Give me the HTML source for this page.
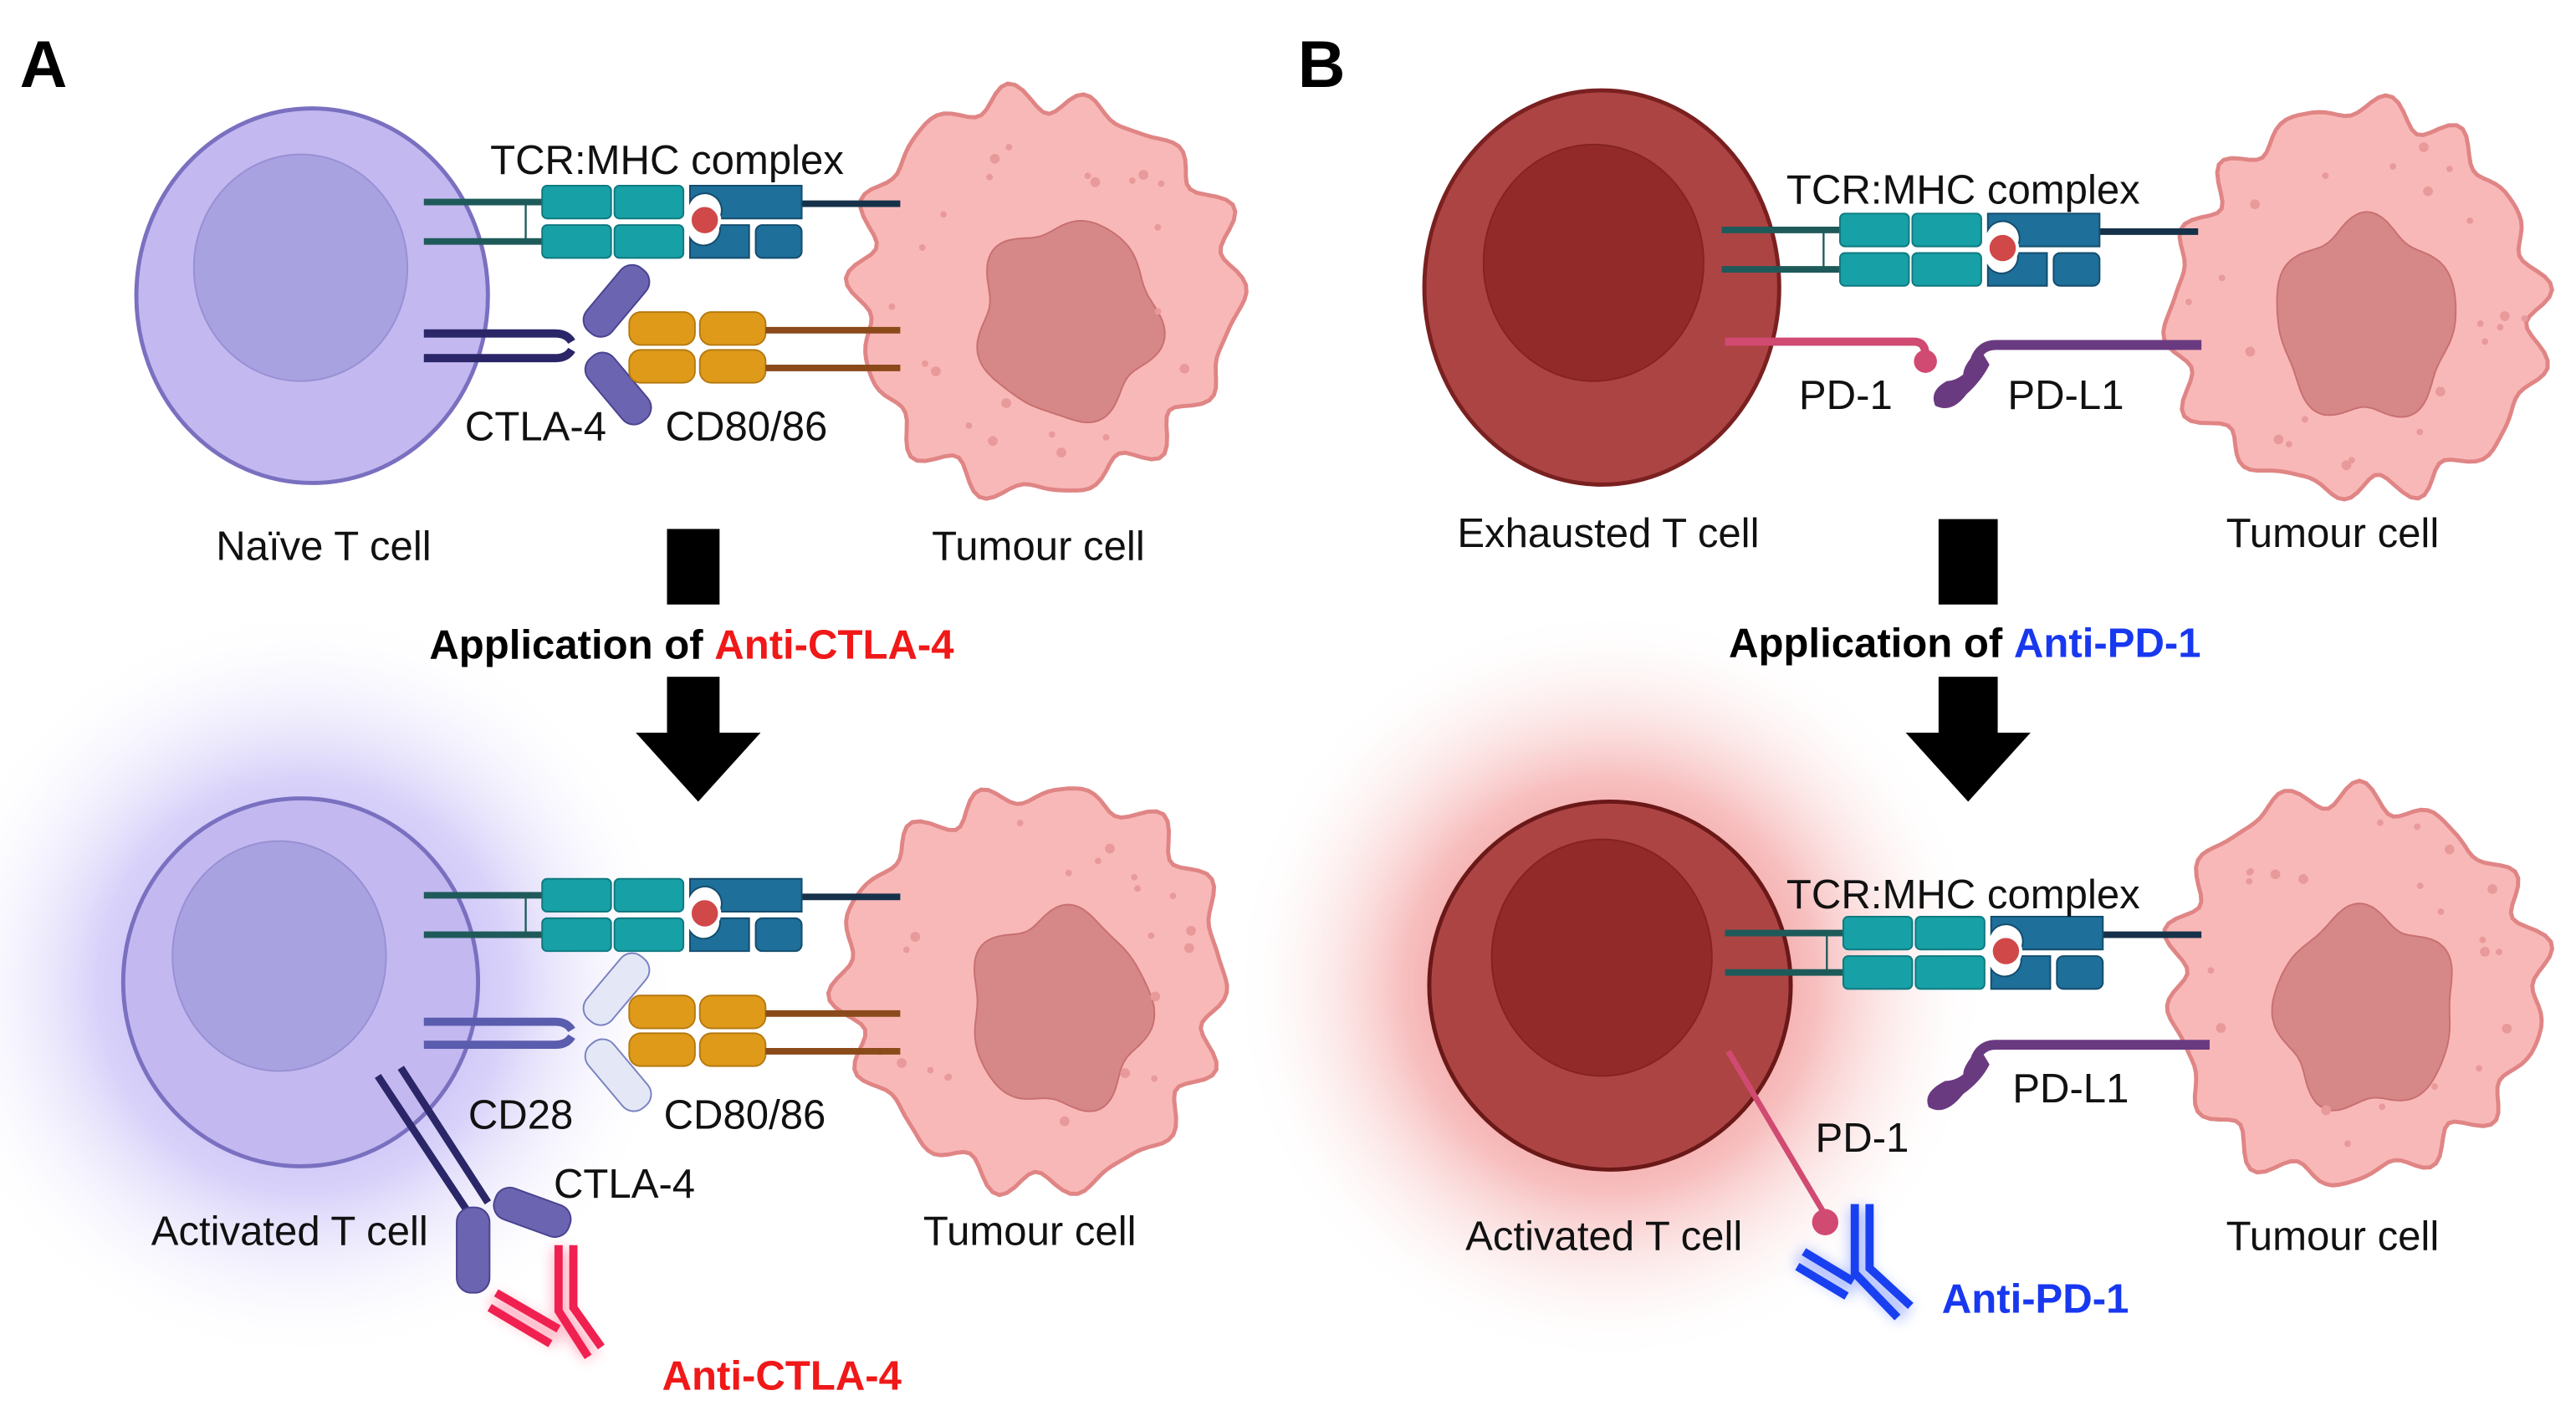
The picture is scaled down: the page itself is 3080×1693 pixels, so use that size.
<!DOCTYPE html>
<html><head><meta charset="utf-8"><style>
html,body{margin:0;padding:0;background:#fff}
svg{display:block}
text{font-family:"Liberation Sans",Arial,sans-serif;fill:#111}
</style></head><body>
<svg id="s" width="3080" height="1693" viewBox="0 0 1568 862" preserveAspectRatio="none" xmlns="http://www.w3.org/2000/svg">
<defs>
<radialGradient id="gp" cx="0.5" cy="0.5" r="0.5">
<stop offset="0" stop-color="#9a88f0" stop-opacity="0.9"/><stop offset="0.55" stop-color="#b9aef5" stop-opacity="0.55"/><stop offset="1" stop-color="#fff" stop-opacity="0"/></radialGradient>
<radialGradient id="gr" cx="0.5" cy="0.5" r="0.5">
<stop offset="0" stop-color="#e04040" stop-opacity="0.9"/><stop offset="0.55" stop-color="#f08080" stop-opacity="0.5"/><stop offset="1" stop-color="#fff" stop-opacity="0"/></radialGradient>
<filter id="glowR" x="-50%" y="-50%" width="200%" height="200%"><feGaussianBlur stdDeviation="4"/></filter>
<g id="tcr">
<line x1="0" y1="0" x2="75" y2="0" stroke="#1f5a5a" stroke-width="4"/>
<line x1="0" y1="24" x2="75" y2="24" stroke="#1f5a5a" stroke-width="4"/>
<line x1="62" y1="0" x2="62" y2="24" stroke="#1f5a5a" stroke-width="1.2"/>
<rect x="72" y="-10" width="42" height="20" rx="3" fill="#17a0a6" stroke="#0e7a80"/>
<rect x="116" y="-10" width="42" height="20" rx="3" fill="#17a0a6" stroke="#0e7a80"/>
<rect x="72" y="14" width="42" height="20" rx="3" fill="#17a0a6" stroke="#0e7a80"/>
<rect x="116" y="14" width="42" height="20" rx="3" fill="#17a0a6" stroke="#0e7a80"/>
<line x1="230" y1="1" x2="290" y2="1" stroke="#16324a" stroke-width="4"/>
<path d="M162,-10 H230 V10 H180 A10,10 0 0 0 162,0 Z" fill="#1e6f9a" stroke="#134d6e"/>
<path d="M162,34 V22 A10,10 0 0 0 180,14 H198 V34 Z" fill="#1e6f9a" stroke="#134d6e"/>
<rect x="202" y="14" width="28" height="20" rx="4" fill="#1e6f9a" stroke="#134d6e"/>
<circle cx="171" cy="11" r="9" fill="#d04848" stroke="#fff" stroke-width="2"/>
</g>
<g id="cd80">
<rect x="383" y="-11" width="40" height="20" rx="7" fill="#e09a1a" stroke="#b57a10"/>
<rect x="426" y="-11" width="40" height="20" rx="7" fill="#e09a1a" stroke="#b57a10"/>
<rect x="383" y="12" width="40" height="20" rx="7" fill="#e09a1a" stroke="#b57a10"/>
<rect x="426" y="12" width="40" height="20" rx="7" fill="#e09a1a" stroke="#b57a10"/>
<line x1="466" y1="0" x2="548" y2="0" stroke="#8a4a1a" stroke-width="4"/>
<line x1="466" y1="23" x2="548" y2="23" stroke="#8a4a1a" stroke-width="4"/>
</g>
</defs>

<ellipse cx="185" cy="600" rx="230" ry="230" fill="url(#gp)"/>
<ellipse cx="980" cy="600" rx="230" ry="230" fill="url(#gr)"/>

<g id="tumours"></g>

<!-- A top -->
<text x="12" y="53" font-size="40" font-weight="bold" style="fill:#000">A</text>
<ellipse cx="190" cy="180" rx="107" ry="114" fill="#c3b9f0" stroke="#7a70c0" stroke-width="2.5"/>
<ellipse cx="183" cy="163" rx="65" ry="69" fill="#a9a2e0" stroke="#9890d4"/>
<use href="#tcr" x="258" y="123"/>
<path d="M258,203 H338 Q345,203 348,208" fill="none" stroke="#2a2668" stroke-width="5"/>
<path d="M258,218 H338 Q345,218 348,213" fill="none" stroke="#2a2668" stroke-width="5"/>
<rect x="352" y="177" width="50" height="20" rx="9" fill="#6b64b0" stroke="#4a4390" transform="rotate(-50 372 187)"/>
<rect x="352" y="225" width="50" height="20" rx="9" fill="#6b64b0" stroke="#4a4390" transform="rotate(50 375 235)"/>
<use href="#cd80" x="0" y="201"/>
<text x="406" y="106" font-size="25" text-anchor="middle">TCR:MHC complex</text>
<text x="283" y="268" font-size="25">CTLA-4</text>
<text x="405" y="268" font-size="25">CD80/86</text>
<text x="197" y="341" font-size="25" text-anchor="middle">Naïve T cell</text>
<text x="632" y="341" font-size="25" text-anchor="middle">Tumour cell</text>
<rect x="406" y="322" width="32" height="46" fill="#000"/>
<text x="421" y="401" font-size="25" font-weight="bold" text-anchor="middle" style="fill:#000">Application of <tspan style="fill:#f01818">Anti-CTLA-4</tspan></text>
<rect x="406" y="412" width="32" height="36" fill="#000"/>
<path d="M387,446 H463 L425,488 Z" fill="#000"/>

<!-- A bottom -->
<ellipse cx="183" cy="598" rx="108" ry="112" fill="#c3b9f0" stroke="#7a70c0" stroke-width="2.5"/>
<ellipse cx="170" cy="582" rx="65" ry="70" fill="#a9a2e0" stroke="#9890d4"/>
<use href="#tcr" x="258" y="545"/>
<path d="M258,622 H338 Q345,622 348,627" fill="none" stroke="#5a5cae" stroke-width="5"/>
<path d="M258,636 H338 Q345,636 348,631" fill="none" stroke="#5a5cae" stroke-width="5"/>
<rect x="352" y="596" width="50" height="20" rx="9" fill="#e4e8f6" stroke="#7a82c0" transform="rotate(-50 372 606)"/>
<rect x="352" y="643" width="50" height="20" rx="9" fill="#e4e8f6" stroke="#7a82c0" transform="rotate(50 375 653)"/>
<use href="#cd80" x="0" y="617"/>
<path d="M230,655 L285,738" stroke="#2a2668" stroke-width="4.5"/>
<path d="M244,650 L297,732" stroke="#2a2668" stroke-width="4.5"/>
<rect x="278" y="735" width="20" height="52" rx="9" fill="#6b64b0" stroke="#4a4390"/>
<rect x="300" y="728" width="48" height="20" rx="9" fill="#6b64b0" stroke="#4a4390" transform="rotate(20 324 738)"/>
<g stroke="#ff3060" stroke-width="11" opacity="0.35" filter="url(#glowR)" fill="none">
<path d="M342,760 V800 L360,825 M300,792 L340,815"/></g>
<g stroke="#f02050" stroke-width="5" fill="none">
<path d="M340,758 V798 L358,826"/><path d="M349,758 V796 L366,820"/>
<path d="M302,787 L340,809"/><path d="M298,796 L335,818"/>
</g>
<text x="285" y="687" font-size="25">CD28</text>
<text x="404" y="687" font-size="25">CD80/86</text>
<text x="337" y="729" font-size="25">CTLA-4</text>
<text x="92" y="758" font-size="25">Activated T cell</text>
<text x="562" y="758" font-size="25">Tumour cell</text>
<text x="403" y="846" font-size="25" font-weight="bold" style="fill:#f01818">Anti-CTLA-4</text>

<!-- B top -->
<text x="790" y="53" font-size="40" font-weight="bold" style="fill:#000">B</text>
<ellipse cx="975" cy="175" rx="108" ry="120" fill="#ad4444" stroke="#7a2020" stroke-width="2.5"/>
<ellipse cx="970" cy="160" rx="67" ry="72" fill="#932a2a" stroke="#852222"/>
<use href="#tcr" x="1048" y="140"/>
<path d="M1050,208 H1165 Q1172,208 1172,216 V220" fill="none" stroke="#d04a72" stroke-width="5"/>
<circle cx="1172" cy="220" r="7" fill="#d04a72"/>
<path d="M1340,210 H1215 Q1205,210 1202,220" fill="none" stroke="#6a3a80" stroke-width="6"/>
<path d="M1205,212 Q1195,222 1195,228 Q1190,232 1185,232 Q1174,238 1178,247 Q1188,252 1197,240 Q1206,232 1211,222 Z" fill="#6a3a80"/>
<text x="1195" y="124" font-size="25" text-anchor="middle">TCR:MHC complex</text>
<text x="1095" y="249" font-size="25">PD-1</text>
<text x="1222" y="249" font-size="25">PD-L1</text>
<text x="887" y="333" font-size="25">Exhausted T cell</text>
<text x="1355" y="333" font-size="25">Tumour cell</text>
<rect x="1180" y="316" width="36" height="52" fill="#000"/>
<text x="1196" y="400" font-size="25" font-weight="bold" text-anchor="middle" style="fill:#000">Application of <tspan style="fill:#1838f0">Anti-PD-1</tspan></text>
<rect x="1180" y="412" width="36" height="36" fill="#000"/>
<path d="M1160,446 H1236 L1198,488 Z" fill="#000"/>

<!-- B bottom -->
<ellipse cx="980" cy="600" rx="110" ry="112" fill="#ad4444" stroke="#6a1818" stroke-width="2.5"/>
<ellipse cx="975" cy="583" rx="67" ry="72" fill="#932a2a" stroke="#852222"/>
<use href="#tcr" x="1050" y="568"/>
<path d="M1345,636 H1215 Q1205,636 1202,646" fill="none" stroke="#6a3a80" stroke-width="6"/>
<path d="M1205,638 Q1195,648 1195,654 Q1190,658 1184,658 Q1170,665 1174,674 Q1184,680 1195,666 Q1206,658 1211,648 Z" fill="#6a3a80"/>
<line x1="1052" y1="640" x2="1110" y2="738" stroke="#d04a72" stroke-width="3.5"/>
<circle cx="1111" cy="744" r="8" fill="#d04a72"/>
<g stroke="#5070ff" stroke-width="13" opacity="0.4" filter="url(#glowR)" fill="none">
<path d="M1132,735 V775 L1160,800 M1095,765 L1128,785"/></g>
<g stroke="#1840f0" stroke-width="5" fill="none">
<path d="M1129,733 V775 L1155,802"/><path d="M1138,733 V772 L1163,795"/>
<path d="M1098,762 L1128,780"/><path d="M1094,771 L1124,789"/>
</g>
<text x="1195" y="553" font-size="25" text-anchor="middle">TCR:MHC complex</text>
<text x="1225" y="671" font-size="25">PD-L1</text>
<text x="1105" y="701" font-size="25">PD-1</text>
<text x="892" y="761" font-size="25">Activated T cell</text>
<text x="1355" y="761" font-size="25">Tumour cell</text>
<text x="1182" y="799" font-size="25" font-weight="bold" style="fill:#1838f0">Anti-PD-1</text>
</svg>
<script>
(function(){
var NS="http://www.w3.org/2000/svg",g=document.getElementById("tumours");
function blob(cx,cy,r,n,amp,seed,nx,ny,nr){
 var d="",N=180;
 for(var i=0;i<=N;i++){var t=i/N*2*Math.PI;
  var rr=r+amp*Math.sin(n*t+seed)+amp*0.6*Math.sin(3*t+seed*2)+amp*0.5*Math.sin((n+5)*t+seed*3);
  var x=cx+rr*Math.cos(t),y=cy+rr*Math.sin(t)*1.04;
  d+=(i?"L":"M")+x.toFixed(1)+","+y.toFixed(1);}
 var p=document.createElementNS(NS,"path");p.setAttribute("d",d+"Z");
 p.setAttribute("fill","#f9b8b8");p.setAttribute("stroke","#e08585");p.setAttribute("stroke-width","2.5");g.appendChild(p);
 var d2="";for(var i=0;i<=N;i++){var t=i/N*2*Math.PI;var rr=nr+4*Math.sin(5*t+seed)+2*Math.sin(7*t);
  d2+=(i?"L":"M")+(nx+rr*Math.cos(t)).toFixed(1)+","+(ny+rr*Math.sin(t)*1.1).toFixed(1);}
 var q=document.createElementNS(NS,"path");q.setAttribute("d",d2+"Z");q.setAttribute("fill","#d68787");q.setAttribute("stroke","#c87070");g.appendChild(q);
 var s=seed*97;for(var k=0;k<22;k++){s=(s*9301+49297)%233280;var a=s/233280*6.283;s=(s*9301+49297)%233280;var rad=70+s/233280*35;
  var c=document.createElementNS(NS,"circle");c.setAttribute("cx",cx+rad*Math.cos(a));c.setAttribute("cy",cy+rad*Math.sin(a));c.setAttribute("r",k%3?2:3);c.setAttribute("fill","#e89a9a");g.appendChild(c);}
}
blob(635,178,115,14,6,1,650,195,54);
blob(630,600,115,14,6,2,645,615,54);
blob(1435,185,112,14,6,3,1440,195,54);
blob(1432,600,112,14,6,4,1440,615,54);
})();
</script>
</body></html>
